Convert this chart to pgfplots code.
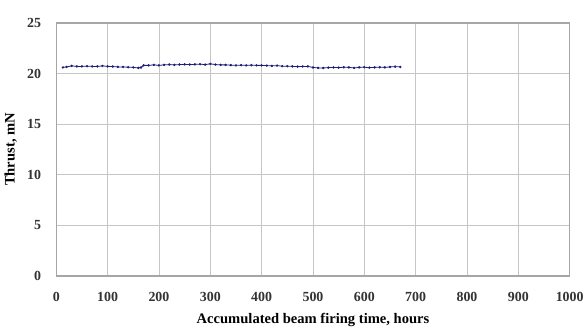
\documentclass[border=0pt]{standalone}
\usepackage{pgfplots}
\pgfplotsset{compat=1.18}
\usepackage{fontspec}
\setmainfont{Liberation Serif}
\definecolor{linecol}{RGB}{30,30,120}
\begin{document}
\begin{tikzpicture}
\begin{axis}[
  at={(0,0)}, anchor=south west,
  scale only axis, width=387.75pt, height=191.25pt,
  xmin=0, xmax=1000, ymin=0, ymax=25,
  xtick={0,100,...,1000}, ytick={0,5,...,25},
  grid=major, major grid style={gray!45, line width=0.6pt},
  axis line style={gray!70, line width=1pt},
  major tick length=0pt,
  /pgf/number format/assume math mode=true,
  /pgf/number format/1000 sep={},
  tick label style={font=\bfseries\fontsize{10.5}{12}\selectfont, text=black!80},
  xticklabel style={anchor=center, yshift=-16pt},
  yticklabel style={anchor=east, xshift=-8pt},
  xlabel={Accumulated beam firing time, hours},
  ylabel={Thrust, mN},
  label style={font=\bfseries\fontsize{11}{13}\selectfont},
  xlabel style={at={(axis description cs:0.5,0)}, anchor=center, yshift=-33pt},
  ylabel style={at={(axis description cs:0,0.5)}, anchor=center, yshift=34.5pt},
]
\addplot[linecol, line width=0.6pt, mark=*, mark size=0.6pt] coordinates {
(13,20.6) (20,20.65) (30,20.75) (40,20.7) (50,20.7) (60,20.72) (70,20.7) (80,20.7) (90,20.75) (100,20.7)
(110,20.68) (120,20.65) (130,20.65) (140,20.62) (150,20.6) (160,20.55) (165,20.6) (170,20.8) (180,20.8)
(190,20.85) (200,20.8) (210,20.85) (220,20.88) (230,20.85) (240,20.88) (250,20.9) (260,20.88) (270,20.9)
(280,20.92) (290,20.88) (300,20.95) (310,20.88) (320,20.85) (330,20.85) (340,20.82) (350,20.8) (360,20.82)
(370,20.8) (380,20.82) (390,20.8) (400,20.8) (410,20.78) (420,20.75) (430,20.78) (440,20.72) (450,20.72)
(460,20.7) (470,20.68) (480,20.7) (490,20.7) (500,20.6) (510,20.55) (520,20.55) (530,20.58) (540,20.6)
(550,20.58) (560,20.62) (570,20.6) (580,20.55) (590,20.6) (600,20.62) (610,20.58) (620,20.6) (630,20.62)
(640,20.6) (650,20.65) (660,20.68) (670,20.65)
};
\end{axis}
\path (-42pt,-39.75pt) rectangle (399pt,208.5pt);
\end{tikzpicture}
\end{document}
